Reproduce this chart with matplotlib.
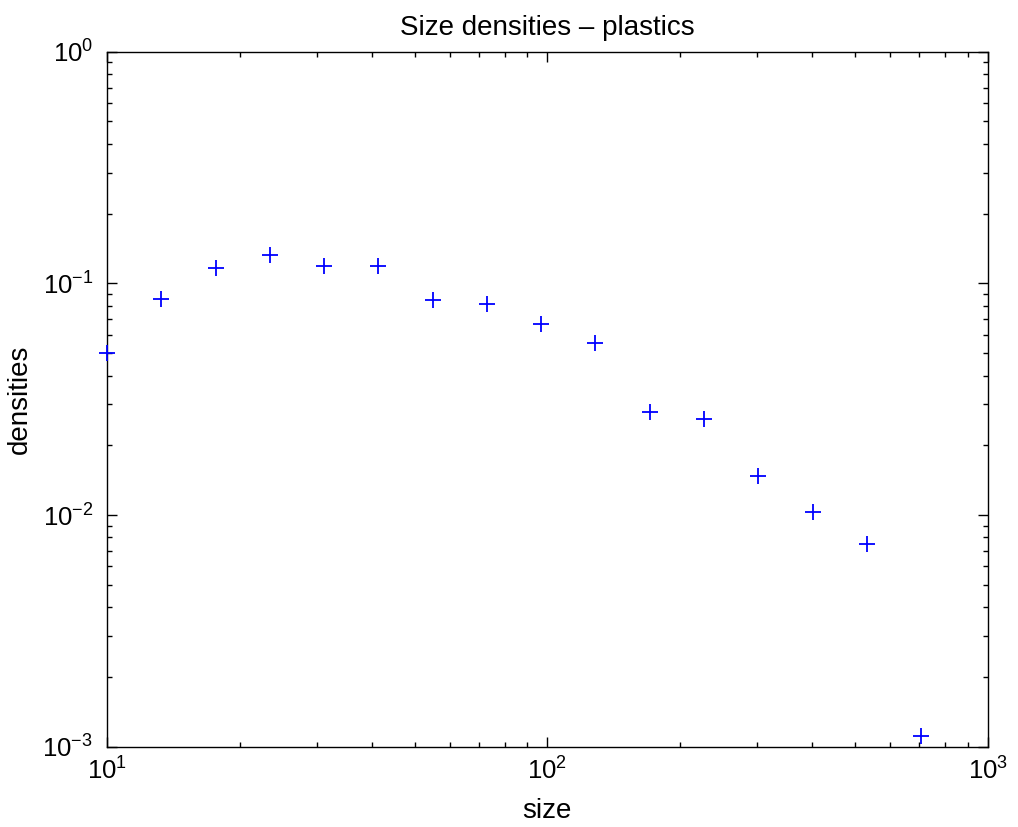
import matplotlib
matplotlib.use("Agg")
import matplotlib.pyplot as plt
from matplotlib.ticker import LogLocator, NullFormatter

plt.rcParams['font.family'] = ['Liberation Sans', 'DejaVu Sans']
plt.rcParams['mathtext.fontset'] = 'custom'
plt.rcParams['mathtext.rm'] = 'Liberation Sans'
plt.rcParams['mathtext.it'] = 'Liberation Sans:italic'
plt.rcParams['mathtext.bf'] = 'Liberation Sans:bold'

size = [10.0, 13.28, 17.64, 23.43, 31.12, 41.33, 54.9, 72.9, 96.8, 128.6,
        170.8, 226.9, 301.4, 400.3, 531.7, 706.0]
densities = [0.0499, 0.0859, 0.1161, 0.1325, 0.1189, 0.1192, 0.0848, 0.0812,
             0.0668, 0.0551, 0.0278, 0.0261, 0.01475, 0.01028, 0.0075, 0.00111]

fig = plt.figure(figsize=(10.18, 8.27), dpi=100)
ax = fig.add_axes([0.1051, 0.0971, 0.9702 - 0.1051, 0.9375 - 0.0971])
ax.plot(size, densities, linestyle='none', marker='+', color='#0000ff',
        markersize=12, markeredgewidth=1.3, clip_on=False, zorder=5)
ax.set_xscale('log')
ax.set_yscale('log')
ax.set_xlim(10, 1000)
ax.set_ylim(1e-3, 1)
ax.xaxis.set_major_locator(LogLocator(base=10, numticks=10))
ax.yaxis.set_major_locator(LogLocator(base=10, numticks=10))
ax.xaxis.set_minor_locator(LogLocator(base=10, subs=range(2, 10), numticks=20))
ax.yaxis.set_minor_locator(LogLocator(base=10, subs=range(2, 10), numticks=20))
ax.xaxis.set_minor_formatter(NullFormatter())
ax.yaxis.set_minor_formatter(NullFormatter())
ax.tick_params(which='both', direction='in', top=True, right=True,
               labelsize=18.5, width=1.0, colors='black')
ax.tick_params(which='major', length=7)
ax.tick_params(axis='x', which='major', pad=8)
ax.tick_params(axis='y', which='major', pad=10)
ax.tick_params(which='minor', length=3.5)
for s in ax.spines.values():
    s.set_linewidth(1.0)
ax.set_title('Size densities \u2013 plastics', fontsize=20, pad=12)
ax.set_xlabel('size', fontsize=20, labelpad=9)
ax.set_ylabel('densities', fontsize=20, labelpad=7)
fig.savefig('out.png', dpi=100)
